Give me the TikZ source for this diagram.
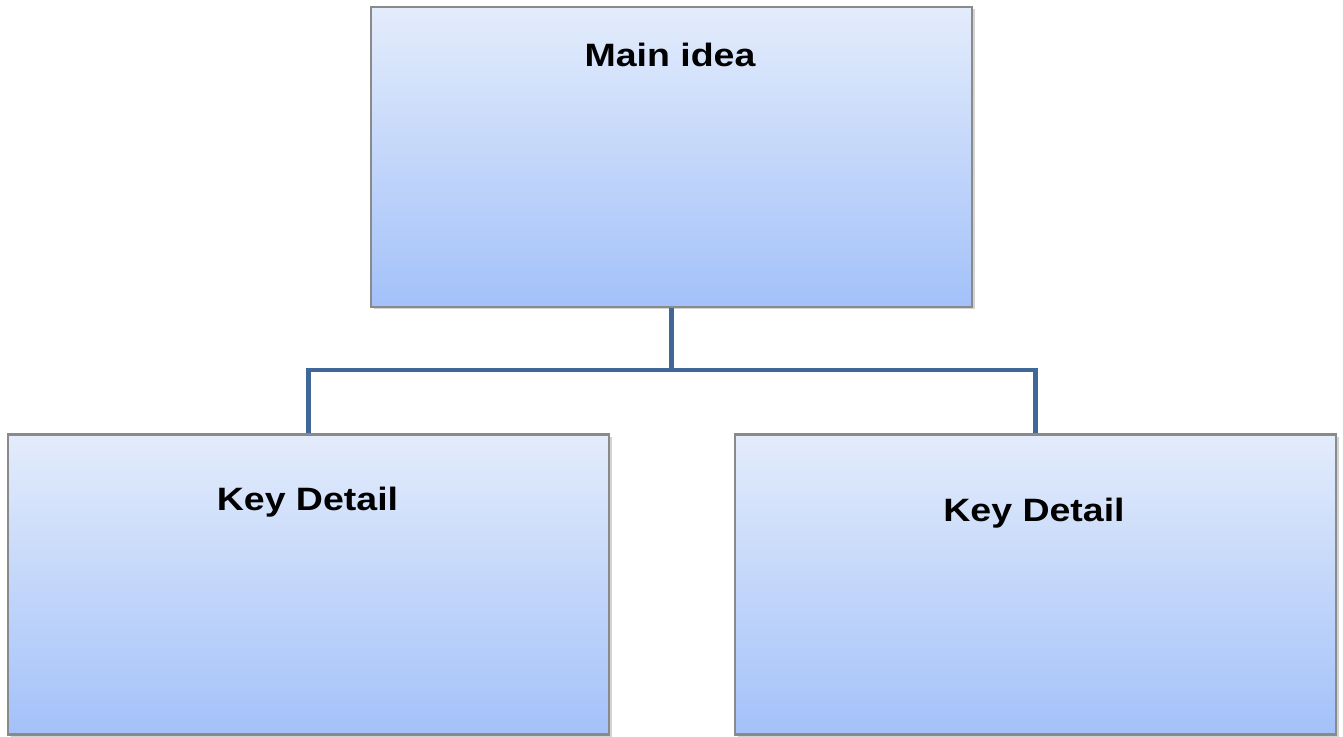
\documentclass[tikz,border=0pt]{standalone}
\usepackage{fontspec}
\setmainfont{Liberation Sans}[FakeStretch=1.16]
\usepackage{tikz}
\usepackage{xcolor}
\usetikzlibrary{positioning, calc, shadows}

\definecolor{boxtop}{HTML}{E3ECFB}
\definecolor{boxbottom}{HTML}{A3C1F9}
\definecolor{boxline}{HTML}{8A8A8A}
\definecolor{linkblue}{HTML}{3F6797}

\tikzset{
  ideabox/.style={draw=boxline, line width=0.6pt, top color=boxtop, bottom color=boxbottom,
    minimum width=6.01cm, minimum height=3.0cm, inner sep=0pt,
    drop shadow={shadow xshift=0.025cm, shadow yshift=-0.025cm, opacity=0.35}},
  boxtitle/.style={anchor=base, font=\fontsize{9.2}{11}\selectfont\bfseries},
  link/.style={draw=linkblue, line width=1.4pt}
}

\begin{document}
\begin{tikzpicture}

\useasboundingbox (0,0) rectangle (13.43,7.36);

\node[ideabox] (main) at (6.715,5.79) {};
\node[ideabox] (detailL) at (3.085,1.515) {};
\node[ideabox] (detailR) at (10.355,1.515) {};

\node[boxtitle] (mainText) at (6.70,6.69) {Main idea};
\node[boxtitle] (detailLText) at (3.075,2.26) {Key Detail};
\node[boxtitle] (detailRText) at (10.34,2.15) {Key Detail};

\coordinate (bus) at (6.715,3.66);
\draw[link] (main.south) -- (bus);
\draw[link] (detailL.north) |- (bus) -| (detailR.north);

\end{tikzpicture}
\end{document}
